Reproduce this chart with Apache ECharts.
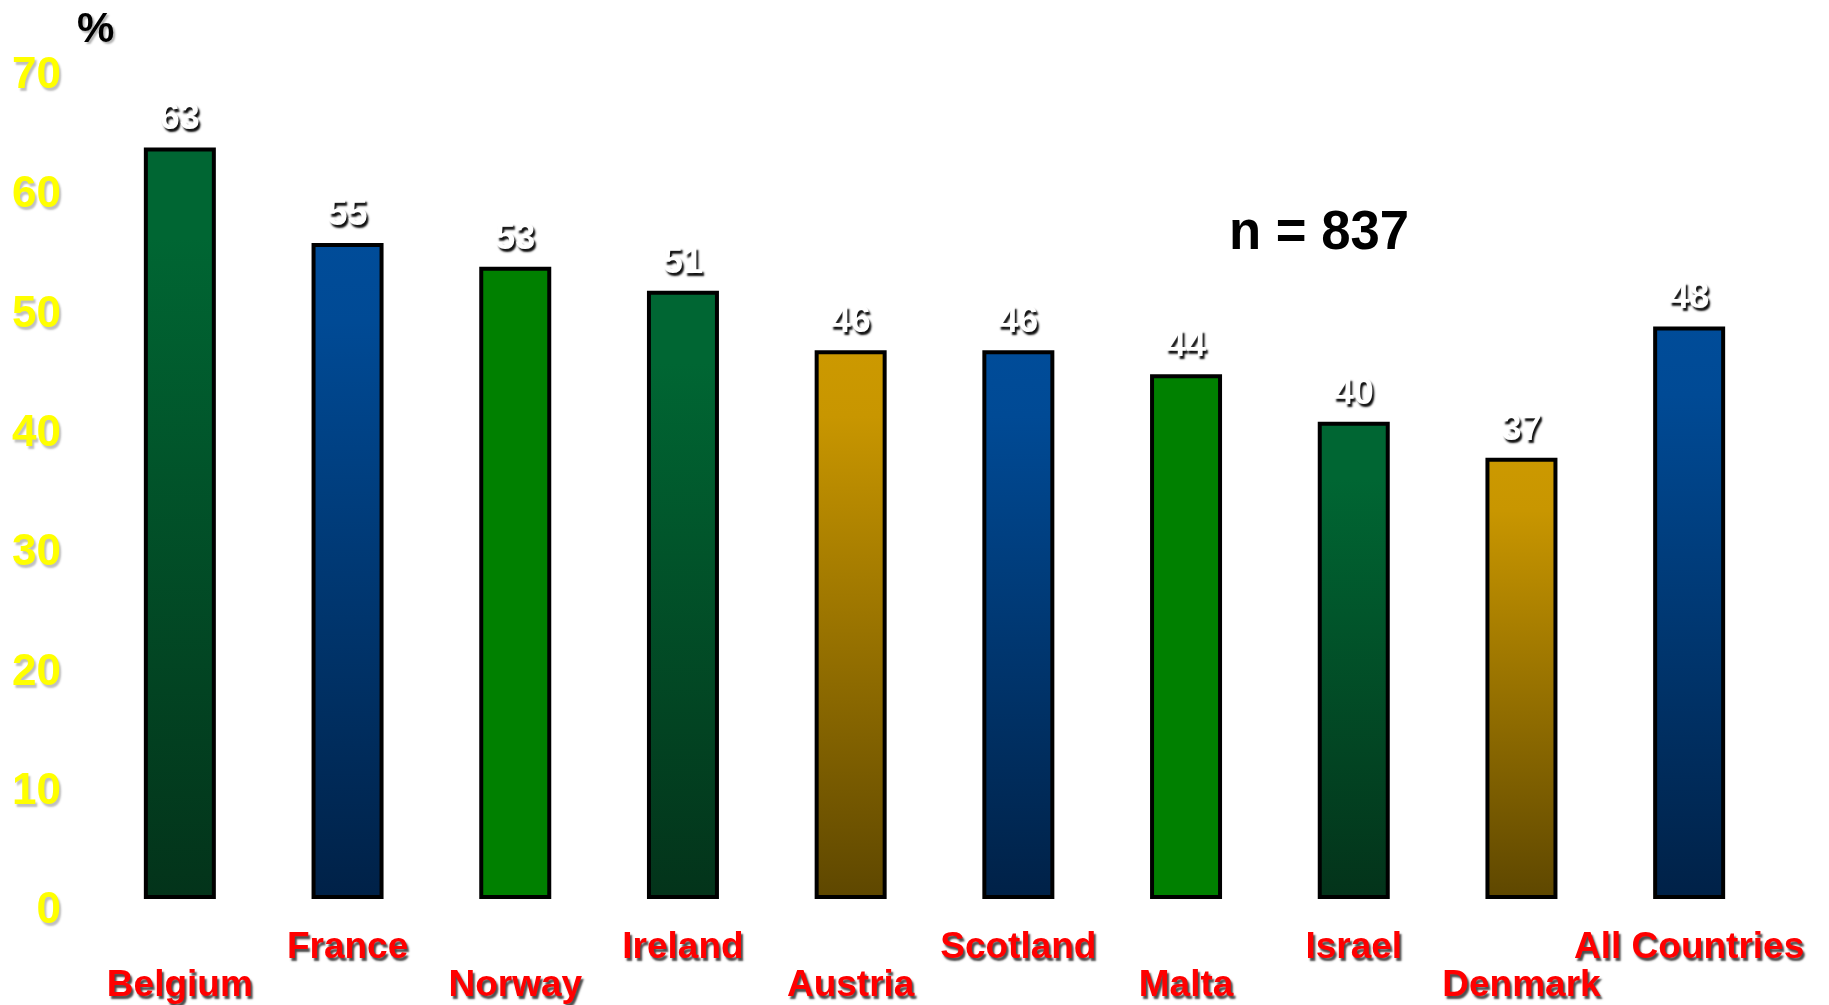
<!DOCTYPE html>
<html>
<head>
<meta charset="utf-8">
<script src="https://cdn.jsdelivr.net/npm/echarts@6/dist/echarts.min.js"></script>
<style>
html,body{margin:0;padding:0;background:#fff;}
#main{width:1829px;height:1005px;}
</style>
</head>
<body>
<div id="main"></div>
<script>
const categories = ['Belgium','France','Norway','Ireland','Austria','Scotland','Malta','Israel','Denmark','All Countries'];
const values = [63,55,53,51,46,46,44,40,37,48];
const yTicks = [0,10,20,30,40,50,60,70];
const sampleNote = 'n = 837';
const unitLabel = '%';

// colour group for each bar (style, kept separate from the data)
const barGroups = ['darkgreen','blue','green','darkgreen','gold','blue','green','darkgreen','gold','blue'];
const palette = {
  darkgreen: ['#006633','#006633','#03331A'],
  blue: ['#004C99','#004A95','#002147'],
  green: ['#008000','#008000','#008000'],
  gold: ['#CC9900','#C89600','#5E4700']
};
function grad(g){
  const c = palette[g];
  return {type:'linear',x:0,y:0,x2:0,y2:1,colorStops:[
    {offset:0,color:c[0]},{offset:0.12,color:c[1]},{offset:1,color:c[2]}]};
}

const chart = echarts.init(document.getElementById('main'));
const fontFam = '"Liberation Sans", Arial, sans-serif';
const redShadow = {textShadowColor:'rgba(0,0,0,0.7)',textShadowOffsetX:2,textShadowOffsetY:3,textShadowBlur:2};
chart.setOption({
  backgroundColor:'#ffffff',
  animation:false,
  grid:{left:96,right:56,top:64,bottom:106,containLabel:false,outerBoundsMode:'none'},
  xAxis:{
    type:'category',
    data:categories,
    axisLine:{show:false},
    axisTick:{show:false},
    axisLabel:{
      interval:0,
      hideOverlap:false,
      margin:30,
      formatter:function(v,i){ return (i%2===1 ? '{hi|' : '{lo|') + v + '}'; },
      rich:{
        hi:Object.assign({fontFamily:fontFam,fontSize:37,fontWeight:'bold',color:'#FF0000',lineHeight:37},redShadow),
        lo:Object.assign({fontFamily:fontFam,fontSize:37,fontWeight:'bold',color:'#FF0000',lineHeight:37,padding:[77,0,0,0]},redShadow)
      }
    }
  },
  yAxis:{
    type:'value',
    min:yTicks[0],
    max:yTicks[yTicks.length-1],
    interval:10,
    axisLine:{show:false},
    axisTick:{show:false},
    splitLine:{show:false},
    axisLabel:{
      margin:35,
      verticalAlign:'top',
      lineHeight:24,
      fontFamily:fontFam,
      fontSize:44,
      fontWeight:'bold',
      color:'#FFFF00',
      textShadowColor:'rgba(0,0,0,0.25)',
      textShadowOffsetX:2,
      textShadowOffsetY:3,
      textShadowBlur:2
    }
  },
  series:[{
    type:'bar',
    barWidth:72,
    data:values.map((v,i)=>({value:v,itemStyle:{color:grad(barGroups[i])}})),
    itemStyle:{borderColor:'#000',borderWidth:4},
    label:{
      show:true,
      position:'top',
      distance:10,
      fontFamily:fontFam,
      fontSize:36,
      fontWeight:'bold',
      color:'#ffffff',
      textShadowColor:'rgba(0,0,0,0.95)',
      textShadowOffsetX:2,
      textShadowOffsetY:3,
      textShadowBlur:2
    }
  }],
  graphic:[
    {type:'text',left:77,top:9,style:{text:unitLabel,fontFamily:fontFam,fontSize:42,fontWeight:'bold',fill:'#000',
      textShadowColor:'rgba(0,0,0,0.3)',textShadowOffsetX:2,textShadowOffsetY:2,textShadowBlur:2}},
    {type:'text',x:1229,y:234,scaleX:0.94,style:{text:sampleNote,fontFamily:fontFam,fontSize:56,fontWeight:'bold',fill:'#000',
      textAlign:'left',textVerticalAlign:'middle'}}
  ]
});
</script>
</body>
</html>
